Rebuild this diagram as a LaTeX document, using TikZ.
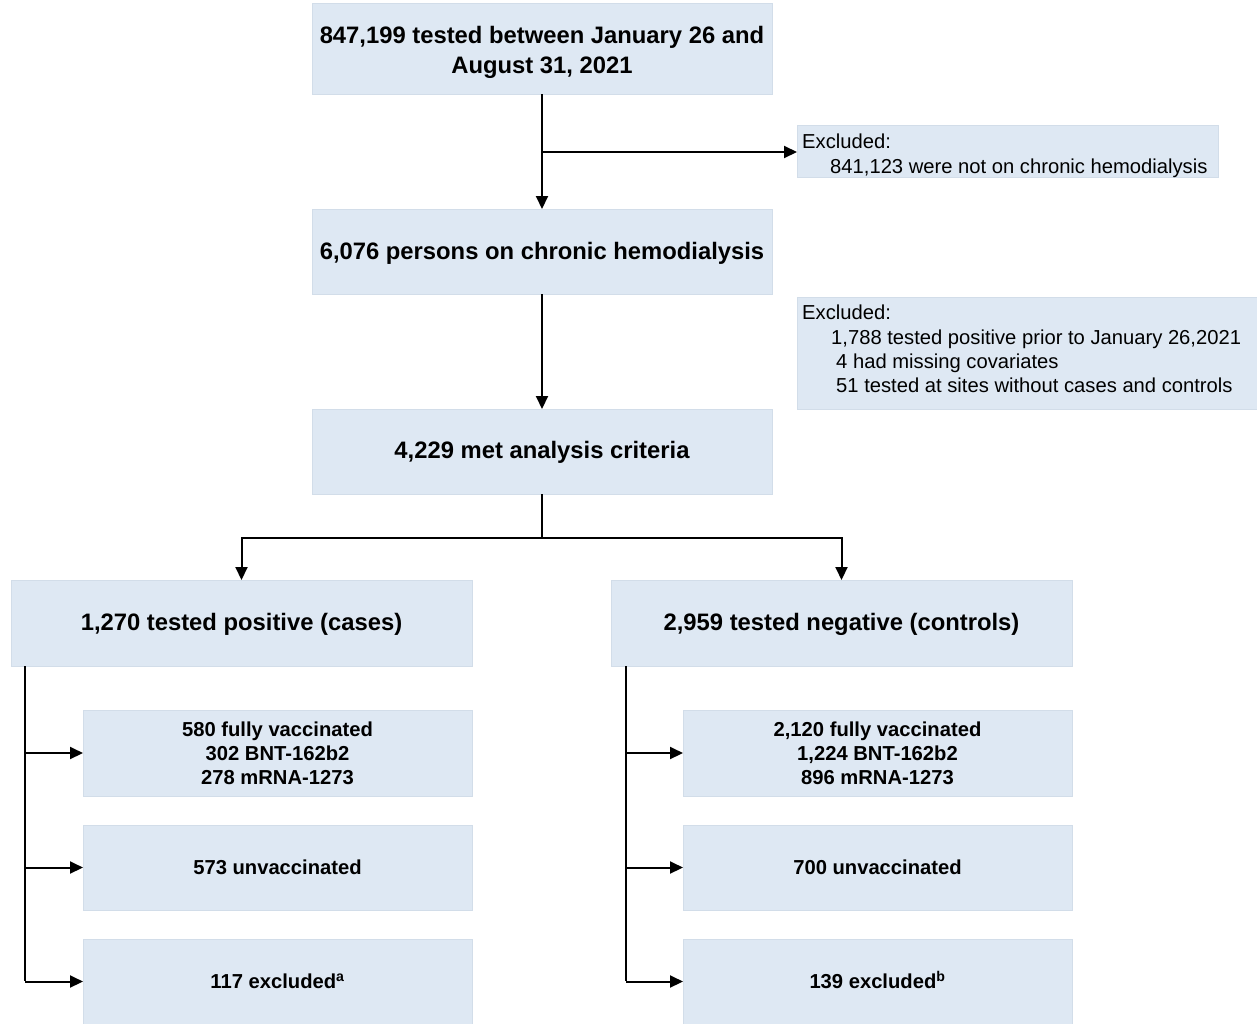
\documentclass[tikz,border=0pt]{standalone}
\usepackage{fontspec}
\setmainfont{Liberation Sans}
\usetikzlibrary{arrows.meta}
\definecolor{boxfill}{HTML}{DEE8F3}
\definecolor{boxline}{HTML}{D2DDE9}
\tikzset{
  box/.style={draw=boxline, line width=0.8pt, fill=boxfill, inner sep=0pt, outer sep=0pt},
  conn/.style={line width=2pt, -{Triangle[length=13pt,width=12pt]}},
  plain/.style={line width=2pt},
  bigt/.style={font=\fontsize{23.8}{29.5}\selectfont\bfseries, align=center},
  midt/.style={font=\fontsize{20.2}{24}\selectfont\bfseries, align=center},
  exct/.style={font=\fontsize{20.2}{24.3}\selectfont, align=left, anchor=north west, inner sep=0pt}
}
\begin{document}
\begin{tikzpicture}[x=1pt,y=-1pt]
\useasboundingbox (0,0) rectangle (1257,1023);
% main column
\node[box, minimum width=460pt, minimum height=91pt] (top) at (542,48.5) {};
\node[bigt] (topt) at ([yshift=-4pt]top.center) {847,199 tested between January 26 and\\August 31, 2021};
\node[box, minimum width=460pt, minimum height=85pt] (hd) at (542,251.5) {};
\node[bigt] at ([yshift=-2pt]hd.center) {6,076 persons on chronic hemodialysis};
\node[box, minimum width=460pt, minimum height=85pt] (met) at (542,451.5) {};
\node[bigt] at ([yshift=-1pt]met.center) {4,229 met analysis criteria};
% exclusions
\node[box, minimum width=421pt, minimum height=52pt] (ex1) at (1007.5,151) {};
\node[exct] at (802,134) {Excluded:\\\hspace*{28pt}841,123 were not on chronic hemodialysis};
\node[box, minimum width=460pt, minimum height=112pt] (ex2) at (1027,353) {};
\node[exct] at (802,305) {Excluded:\\\hspace*{29pt}1,788 tested positive prior to January 26,2021\\\hspace*{34pt}4 had missing covariates\\\hspace*{34pt}51 tested at sites without cases and controls};
% cases / controls
\node[box, minimum width=461pt, minimum height=86pt] (cas) at (241.5,623) {};
\node[bigt] at ([yshift=-1pt]cas.center) {1,270 tested positive (cases)};
\node[box, minimum width=461pt, minimum height=86pt] (con) at (841.5,623) {};
\node[bigt] at ([yshift=-1pt]con.center) {2,959 tested negative (controls)};
% sub boxes left
\node[box, minimum width=389pt, minimum height=86pt] (l1) at (277.5,753) {};
\node[midt] at (l1) {580 fully vaccinated\\302 BNT-162b2\\278 mRNA-1273};
\node[box, minimum width=389pt, minimum height=85pt] (l2) at (277.5,867.5) {};
\node[midt] at (l2) {573 unvaccinated};
\node[box, minimum width=389pt, minimum height=85pt] (l3) at (277.5,981.5) {};
\node[midt] at (l3) {117 excluded\smash{\textsuperscript{a}}};
% sub boxes right
\node[box, minimum width=389pt, minimum height=86pt] (r1) at (877.5,753) {};
\node[midt] at (r1) {2,120 fully vaccinated\\1,224 BNT-162b2\\896 mRNA-1273};
\node[box, minimum width=389pt, minimum height=85pt] (r2) at (877.5,867.5) {};
\node[midt] at (r2) {700 unvaccinated};
\node[box, minimum width=389pt, minimum height=85pt] (r3) at (877.5,981.5) {};
\node[midt] at (r3) {139 excluded\smash{\textsuperscript{b}}};
% connectors
\draw[conn] (top.south) -- (hd.north);
\coordinate (b1) at (542,152);
\draw[conn] (b1) -- (ex1.west |- b1);
\draw[conn] (hd.south) -- (met.north);
\coordinate (sp) at (542,538);
\draw[plain] (met.south) -- (sp);
\draw[conn] (sp) -| (cas.north);
\draw[conn] (sp) -| (con.north);
\coordinate (lt) at (25,666);
\coordinate (rt) at (626,666);
\draw[plain] (lt) -- (25,981);
\draw[plain] (rt) -- (626,981);
\draw[conn] (lt |- l1) -- (l1.west);
\draw[conn] (lt |- l2) -- (l2.west);
\draw[conn] (lt |- l3) -- (l3.west);
\draw[conn] (rt |- r1) -- (r1.west);
\draw[conn] (rt |- r2) -- (r2.west);
\draw[conn] (rt |- r3) -- (r3.west);
\end{tikzpicture}
\end{document}
